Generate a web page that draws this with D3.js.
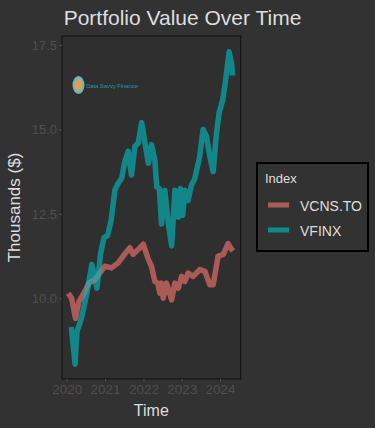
<!DOCTYPE html>
<html lang="en">
  <head>
    <meta charset="utf-8">
    <title>Portfolio Value Over Time</title>
    <script src="https://d3js.org/d3.v7.min.js"></script>
    <style>
      body { margin: 0; background: #323232; }
      svg { display: block; font-family: 'Liberation Sans', Arial, sans-serif; }
    </style>
  </head>
  <body>
    <script>
// values (thousands of $)
const vcnsDates = ['2020-01-16','2020-02-17','2020-03-25','2020-04-26','2020-06-13','2020-07-30',
  '2020-09-26','2020-11-13','2020-12-30','2021-03-03','2021-05-05','2021-06-22','2021-08-25',
  '2021-09-26','2021-11-13','2021-12-31','2022-02-17','2022-03-19','2022-04-20','2022-05-18',
  '2022-06-07','2022-06-23','2022-07-08','2022-08-10','2022-09-27','2022-10-28','2022-11-29',
  '2023-01-01','2023-02-01','2023-03-03','2023-04-20','2023-06-22','2023-08-10','2023-09-26',
  '2023-10-28','2023-12-14','2024-02-01','2024-03-18','2024-04-20','2024-05-03']
const vcnsValues = [10.15, 10.0, 9.4, 9.9, 10.15, 10.45,
  10.55, 10.75, 10.95, 10.9, 11.05, 11.25, 11.5,
  11.3, 11.45, 11.6, 11.15, 10.95, 10.5, 10.45,
  10.15, 10.45, 10.0, 10.45, 9.95, 10.45, 10.3,
  10.65, 10.5, 10.75, 10.65, 10.85, 10.8, 10.4,
  10.4, 11.25, 11.3, 11.62, 11.45, 11.4]

const vfinxDates = ['2020-02-14','2020-03-21','2020-04-07','2020-05-24','2020-07-11','2020-08-28',
  '2020-10-15','2020-11-18','2020-12-21','2021-01-24','2021-02-27','2021-04-04','2021-05-05',
  '2021-06-07','2021-07-08','2021-08-09','2021-09-09','2021-10-12','2021-11-13','2021-12-15',
  '2022-01-16','2022-02-17','2022-03-19','2022-04-20','2022-05-08','2022-06-02','2022-06-23',
  '2022-07-24','2022-08-25','2022-09-27','2022-10-28','2022-11-29','2022-12-19','2023-01-10',
  '2023-02-01','2023-03-03','2023-04-04','2023-05-06','2023-06-22','2023-07-24','2023-08-25',
  '2023-09-26','2023-10-28','2023-11-29','2023-12-24','2024-01-25','2024-02-17','2024-03-28',
  '2024-04-20','2024-04-30']
const vfinxValues = [9.15, 8.05, 9.0, 9.45, 10.15, 11.0,
  10.3, 11.3, 11.8, 11.85, 12.3, 13.2, 13.4,
  13.55, 14.05, 14.35, 13.65, 14.5, 14.6, 15.2,
  14.6, 14.0, 14.55, 14.1, 13.3, 13.25, 12.2,
  13.2, 12.25, 11.55, 13.2, 12.4, 13.25, 12.45,
  13.2, 12.9, 13.35, 13.55, 14.2, 15.0, 14.8,
  14.2, 13.75, 14.9, 15.5, 15.85, 16.3, 17.3,
  16.95, 16.6]

const seriesNames = ['VCNS.TO', 'VFINX']
const seriesColors = ['#F8766D', '#00BFC4']
const yTicks = [10.0, 12.5, 15.0, 17.5]
const xTickYears = [2020, 2021, 2022, 2023, 2024]

const parse = d3.timeParse('%Y-%m-%d')
const series = [
  { name: seriesNames[0], color: seriesColors[0],
    points: vcnsDates.map((d, i) => ({ date: parse(d), value: vcnsValues[i] })) },
  { name: seriesNames[1], color: seriesColors[1],
    points: vfinxDates.map((d, i) => ({ date: parse(d), value: vfinxValues[i] })) }
]

const dimensions = {
  width: 375,
  height: 428,
  panel: { left: 62, right: 240.7, top: 36, bottom: 379 }
}

const textLight = '#dedede'
const tickGrey = '#4f4f4f'

const svg = d3.select('body')
  .append('svg')
  .attr('width', dimensions.width)
  .attr('height', dimensions.height)

svg.append('rect')
  .attr('width', dimensions.width)
  .attr('height', dimensions.height)
  .attr('fill', '#323232')

const xScale = d3.scaleTime()
  .domain([new Date(2020, 0, 1), new Date(2024, 0, 1)])
  .range([66.7, 220])

const yScale = d3.scaleLinear()
  .domain([10, 17.5])
  .range([298.3, 45])

const p = dimensions.panel

// panel
svg.append('rect')
  .attr('x', p.left)
  .attr('y', p.top)
  .attr('width', p.right - p.left)
  .attr('height', p.bottom - p.top)
  .attr('fill', '#2f2f2f')

// watermark
const logo = svg.append('g').attr('transform', 'translate(78.5,85)')
logo.append('ellipse').attr('rx', 6).attr('ry', 9).attr('fill', '#6fb7b5')
logo.append('ellipse').attr('rx', 4).attr('ry', 6).attr('fill', '#d9a15a')
logo.append('text')
  .attr('x', 7.5)
  .attr('y', 2.5)
  .attr('fill', '#1f9aa0')
  .style('font-size', '6px')
  .attr('textLength', 52)
  .text('Data Savvy Finance')

// lines
const line = d3.line()
  .x(d => xScale(d.date))
  .y(d => yScale(d.value))
  .curve(d3.curveLinear)

const plot = svg.append('g')
plot.selectAll('path.series')
  .data(series)
  .join('path')
  .classed('series', true)
  .attr('d', d => line(d.points))
  .attr('fill', 'none')
  .attr('stroke', d => d.color)
  .attr('stroke-width', 5.5)
  .attr('stroke-linejoin', 'round')
  .attr('stroke-linecap', 'butt')
  .attr('opacity', 0.62)

svg.append('rect')
  .attr('x', p.left)
  .attr('y', p.top)
  .attr('width', p.right - p.left)
  .attr('height', p.bottom - p.top)
  .attr('fill', 'none')
  .attr('stroke', '#111')
  .attr('stroke-width', 1)

// axes
const xAxis = d3.axisBottom(xScale)
  .tickValues(xTickYears.map(y => new Date(y, 0, 1)))
  .tickFormat(d3.timeFormat('%Y'))
  .tickSize(3)
  .tickPadding(2)

const xAxisGroup = svg.append('g')
  .attr('transform', `translate(0, ${p.bottom})`)
  .call(xAxis)
xAxisGroup.select('.domain').remove()
xAxisGroup.selectAll('line').attr('stroke', tickGrey)
xAxisGroup.selectAll('text')
  .attr('fill', tickGrey)
  .style('font-size', '13.5px')

const yAxis = d3.axisLeft(yScale)
  .tickValues(yTicks)
  .tickFormat(d3.format('.1f'))
  .tickSize(3)
  .tickPadding(2)

const yAxisGroup = svg.append('g')
  .attr('transform', `translate(${p.left}, 0)`)
  .call(yAxis)
yAxisGroup.select('.domain').remove()
yAxisGroup.selectAll('line').attr('stroke', tickGrey)
yAxisGroup.selectAll('text')
  .attr('fill', tickGrey)
  .style('font-size', '13px')

// titles
svg.append('text')
  .attr('x', 182.5)
  .attr('y', 25)
  .attr('text-anchor', 'middle')
  .attr('fill', textLight)
  .style('font-size', '21px')
  .text('Portfolio Value Over Time')

svg.append('text')
  .attr('x', (p.left + p.right) / 2)
  .attr('y', 416)
  .attr('text-anchor', 'middle')
  .attr('fill', textLight)
  .style('font-size', '16px')
  .text('Time')

svg.append('text')
  .attr('transform', `translate(20, ${(p.top + p.bottom) / 2}) rotate(-90)`)
  .attr('text-anchor', 'middle')
  .attr('fill', textLight)
  .style('font-size', '17px')
  .text('Thousands ($)')

// legend
const legend = svg.append('g').attr('transform', 'translate(257, 163)')
legend.append('rect')
  .attr('width', 111)
  .attr('height', 88)
  .attr('fill', '#323232')
  .attr('stroke', '#000')
  .attr('stroke-width', 2)
legend.append('text')
  .attr('x', 8)
  .attr('y', 20)
  .attr('fill', textLight)
  .style('font-size', '13px')
  .text('Index')

const items = legend.selectAll('g.item')
  .data(series)
  .join('g')
  .classed('item', true)
  .attr('transform', (d, i) => `translate(0, ${42 + i * 25})`)
items.append('line')
  .attr('x1', 11)
  .attr('x2', 32)
  .attr('stroke', d => d.color)
  .attr('stroke-width', 5)
  .attr('opacity', 0.62)
items.append('text')
  .attr('x', 43)
  .attr('y', 5.5)
  .attr('fill', textLight)
  .style('font-size', '14px')
  .text(d => d.name)
    </script>
  </body>
</html>
